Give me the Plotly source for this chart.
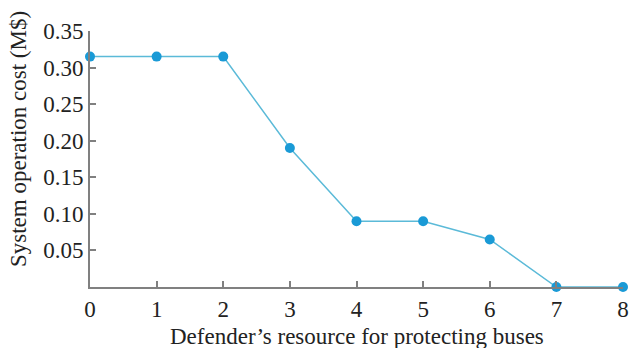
import plotly.graph_objects as go

resources = [0, 1, 2, 3, 4, 5, 6, 7, 8]
cost = [0.315, 0.315, 0.315, 0.19, 0.09, 0.09, 0.065, 0.0, 0.0]
y_ticks = [0.05, 0.10, 0.15, 0.20, 0.25, 0.30, 0.35]
y_tick_text = ["0.05", "0.10", "0.15", "0.20", "0.25", "0.30", "0.35"]
x_ticks = [0, 1, 2, 3, 4, 5, 6, 7, 8]
x_title = "Defender’s resource for protecting buses"
y_title = "System operation cost (M$)"

fig = go.Figure()
fig.add_trace(go.Scatter(
    x=resources, y=cost, mode="lines+markers",
    line=dict(color="#5bbad8", width=1.5),
    marker=dict(color="#1a9ad6", size=10),
    cliponaxis=False,
))

title_font = dict(family="Liberation Serif", size=23, color="#222")
tick_font = dict(family="Liberation Serif", size=23, color="#222")
fig.update_layout(
    autosize=True,
    margin=dict(l=90, r=7, t=31, b=61),
    paper_bgcolor="white", plot_bgcolor="white",
    showlegend=False,
    font=title_font,
    xaxis=dict(range=[0, 8], tickvals=x_ticks, ticks="inside", ticklen=6,
               tickcolor="#808080", tickwidth=1.5,
               showline=True, linecolor="#808080", linewidth=2,
               showgrid=False, zeroline=False, automargin=False,
               tickfont=tick_font),
    yaxis=dict(range=[0, 0.35], tickvals=y_ticks, ticktext=y_tick_text,
               ticks="inside", ticklen=6, tickcolor="#808080", tickwidth=1.5,
               showline=True, linecolor="#808080", linewidth=2,
               showgrid=False, zeroline=False, automargin=False,
               tickfont=tick_font),
    annotations=[
        dict(text=x_title, xref="paper", yref="paper", x=0.5, y=0,
             yshift=-49, xanchor="center", yanchor="middle",
             showarrow=False, font=title_font),
        dict(text=y_title, xref="paper", yref="paper", x=0, y=0.578,
             xshift=-72, xanchor="center", yanchor="middle", textangle=-90,
             showarrow=False, font=title_font),
    ],
)
fig.write_html("out.html", config={"displayModeBar": False, "responsive": True},
               default_width="100vw", default_height="100vh",
               post_script="document.body.style.margin='0';document.body.style.overflow='hidden';")
